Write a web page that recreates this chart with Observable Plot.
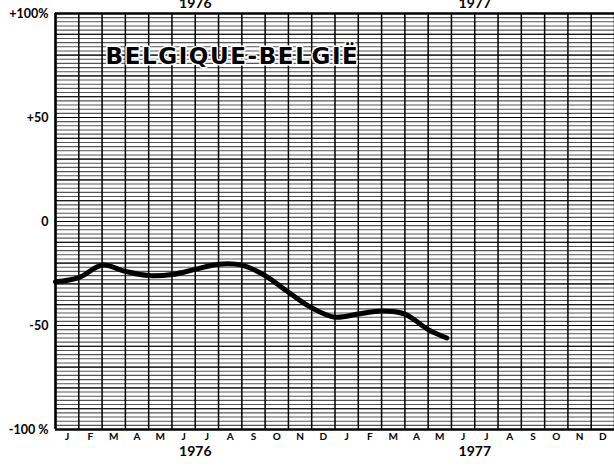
<!DOCTYPE html>
<html>
<head>
<meta charset="utf-8">
<script src="https://cdn.jsdelivr.net/npm/d3@7"></script>
<script src="https://cdn.jsdelivr.net/npm/@observablehq/plot@0.6"></script>
<style>
  html, body { margin: 0; padding: 0; background: #fff; }
  #chart svg { display: block; overflow: visible; }
</style>
</head>
<body>
<div id="chart"></div>
<script>
// ---- data ----
const title = "BELGIQUE-BELGIË";
const monthLabels = ["J","F","M","A","M","J","J","A","S","O","N","D"];
const years = ["1976", "1977"];
const yTicks = [100, 50, 0, -50, -100];
const yTickLabels = ["+100%", "+50", "0", "-50", "-100 %"];
// position in months since start of Jan 1976
const seriesMonth = [0, 1, 2, 3, 4, 5, 6, 7, 8, 9, 10, 11, 12, 13, 14, 15, 16, 16.8];
const seriesValue = [-29, -27, -21, -24, -26, -25.5, -23, -20.5, -21, -26, -34, -41.5, -46, -44.5, -43, -44.5, -52, -56];

// ---- derived tables ----
const monthTicks = d3.range(24).map(i => ({pos: i + 0.5, label: monthLabels[i % 12]}));
const monthLines = d3.range(0, 25);
const yearRows = years.map((y, i) => ({pos: 6 + 12 * i, label: y}));
const fineGrid = d3.range(-98, 100, 2);
const series = seriesMonth.map((m, i) => ({m, v: seriesValue[i]}));

const font = "Lato, 'DejaVu Sans', sans-serif";

const chart = Plot.plot({
  width: 614,
  height: 467,
  marginLeft: 55,
  marginRight: 0,
  marginTop: 13,
  marginBottom: 38,
  style: {fontFamily: font, background: "white", overflow: "visible"},
  x: {domain: [0, 24], axis: null},
  y: {domain: [-100, 100], axis: null},
  marks: [
    // fine horizontal hatching
    Plot.ruleY(fineGrid, {stroke: "#555", strokeWidth: 1.1}),
    Plot.ruleY(fineGrid.filter(d => d % 10 === 0), {stroke: "#000", strokeWidth: 1}),
    // monthly vertical lines
    Plot.ruleX(monthLines, {stroke: "#000", strokeWidth: 1.5}),
    // frame
    Plot.ruleY([100], {stroke: "#000", strokeWidth: 2.5}),
    Plot.ruleY([-100], {stroke: "#000", strokeWidth: 2.5}),
    Plot.ruleX([0], {stroke: "#000", strokeWidth: 2.5}),
    // title
    Plot.text([title], {
      frameAnchor: "top-left", dx: 50, dy: 34, textAnchor: "start",
      fontFamily: "'DejaVu Sans', sans-serif", fontWeight: "bold", fontSize: 23,
      fill: "#000", stroke: "white", strokeWidth: 3, paintOrder: "stroke",
      className: "chart-title"
    }),
    // series line
    Plot.line(series, {x: "m", y: "v", curve: "catmull-rom", stroke: "#000", strokeWidth: 5, strokeLinecap: "round"}),
    // y tick labels
    Plot.text(yTicks, {
      x: 0, y: d => d, text: (d, i) => yTickLabels[i],
      textAnchor: "end", dx: -7, fontWeight: "bold", fontSize: 12.5, fill: "#000"
    }),
    // month labels
    Plot.text(monthTicks, {
      x: "pos", frameAnchor: "bottom", text: "label", dy: 10,
      fontWeight: "bold", fontSize: 10, fill: "#000"
    }),
    // year labels bottom
    Plot.text(yearRows, {
      x: "pos", frameAnchor: "bottom", text: "label", dy: 26,
      fontWeight: "bold", fontSize: 14, fill: "#000"
    }),
    // year labels top (cut off by the edge, as in the original)
    Plot.text(yearRows, {
      x: "pos", frameAnchor: "top", text: "label", dy: -15,
      fontWeight: "bold", fontSize: 14, fill: "#000"
    })
  ]
});
d3.select(chart).selectAll(".chart-title text").attr("letter-spacing", "1.6");
document.getElementById("chart").appendChild(chart);
</script>
</body>
</html>
